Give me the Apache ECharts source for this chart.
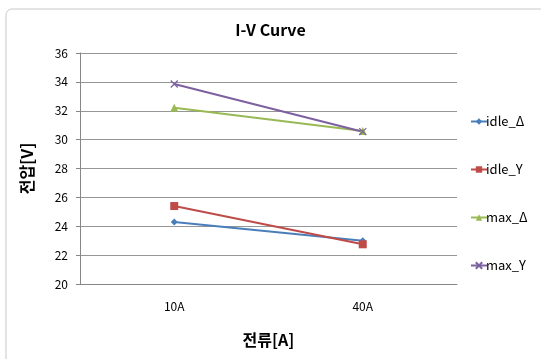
<!DOCTYPE html>
<html>
<head>
<meta charset="utf-8">
<script src="https://cdn.jsdelivr.net/npm/echarts@6/dist/echarts.min.js"></script>
<style>
  html, body { margin: 0; padding: 0; background: #fff; }
  #chart { width: 541px; height: 359px; }
</style>
</head>
<body>
<div id="chart"></div>
<script>
// 데이터
const categories = ['10A', '40A']
const idleDelta = [24.3, 23.0]
const idleY = [25.4, 22.75]
const maxDelta = [32.2, 30.6]
const maxY = [33.85, 30.55]
const seriesNames = ['idle_Δ', 'idle_Y', 'max_Δ', 'max_Y']
const colors = ['#4A7EBB', '#BE4B48', '#98B954', '#7D60A0']

const crossPath = 'path://M0,0L10,10M10,0L0,10'
const font = '"Noto Sans CJK KR", "Noto Sans", sans-serif'

const chart = echarts.init(document.getElementById('chart'))

function makeSeries(name, data, color, symbol, size) {
  return {
    name: name,
    type: 'line',
    data: data,
    symbol: symbol,
    symbolSize: size,
    showSymbol: true,
    lineStyle: { color: color, width: 2 },
    itemStyle: { color: color, borderColor: color, borderWidth: symbol === crossPath ? 1.2 : 0 },
    emphasis: { disabled: true }
  }
}

const option = {
  animation: false,
  color: colors,
  textStyle: { fontFamily: font },
  graphic: [{
    type: 'rect',
    shape: { x: 6, y: 9, width: 600, height: 420, r: 6 },
    style: { fill: 'none', stroke: '#c8c8c8', lineWidth: 1 },
    silent: true
  }],
  title: {
    text: 'I-V Curve',
    left: 'center',
    top: 17,
    textStyle: { fontSize: 16, fontWeight: 'bold', color: '#000', fontFamily: font }
  },
  legend: {
    orient: 'vertical',
    left: 465,
    top: 110,
    itemGap: 35,
    itemWidth: 16,
    itemHeight: 8,
    data: seriesNames,
    textStyle: { fontSize: 13, color: '#000', fontFamily: font, padding: [0, 0, 0, -6] }
  },
  grid: { left: 80, right: 84, top: 53, bottom: 75 },
  xAxis: {
    type: 'category',
    data: categories,
    boundaryGap: true,
    name: '전류[A]',
    nameLocation: 'middle',
    nameGap: 48,
    nameTextStyle: { fontSize: 16, fontWeight: 'bold', color: '#000', fontFamily: font },
    axisLine: { lineStyle: { color: '#868686' } },
    axisTick: { show: false },
    axisLabel: { color: '#000', fontSize: 12, margin: 16 }
  },
  yAxis: {
    type: 'value',
    min: 20,
    max: 36,
    interval: 2,
    name: '전압[V]',
    nameLocation: 'middle',
    nameGap: 45,
    nameTextStyle: { fontSize: 16, fontWeight: 'bold', color: '#000', fontFamily: font },
    axisLine: { show: true, lineStyle: { color: '#868686' } },
    axisTick: { show: true, length: 4, lineStyle: { color: '#868686' } },
    axisLabel: { color: '#000', fontSize: 12, margin: 12 },
    splitLine: { lineStyle: { color: '#969696' } }
  },
  series: [
    makeSeries(seriesNames[0], idleDelta, colors[0], 'diamond', 7),
    makeSeries(seriesNames[1], idleY, colors[1], 'rect', 8),
    makeSeries(seriesNames[2], maxDelta, colors[2], 'triangle', 8),
    makeSeries(seriesNames[3], maxY, colors[3], crossPath, 7)
  ]
}

chart.setOption(option)
</script>
</body>
</html>
